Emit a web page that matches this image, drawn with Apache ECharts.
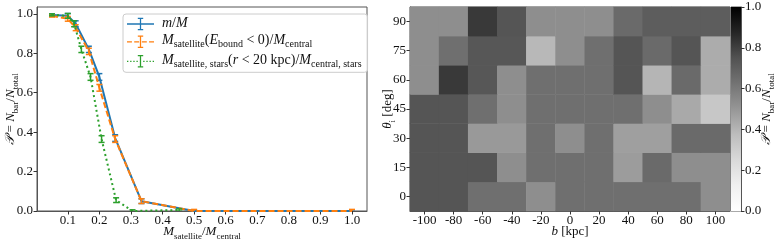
<!DOCTYPE html>
<html><head><meta charset="utf-8">
<script src="https://cdn.jsdelivr.net/npm/echarts@6/dist/echarts.min.js"></script>
<style>html,body{margin:0;padding:0;background:#fff}#c{width:777px;height:244px}</style>
</head><body><div id="c"></div>
<script>
// ---- left panel data ----
const xBlue   = [0.05, 0.1, 0.125, 0.1667, 0.2, 0.25, 0.3333, 0.5, 1.0];
const yBlue   = [0.995, 0.99, 0.95, 0.82, 0.68, 0.37, 0.05, 0.0, 0.0];
const eBlue   = [0.005, 0.012, 0.015, 0.016, 0.017, 0.017, 0.012, 0.006, 0.006];
const xOrange = [0.05, 0.1, 0.125, 0.1667, 0.2, 0.25, 0.3333, 0.5, 1.0];
const yOrange = [0.99, 0.975, 0.93, 0.81, 0.625, 0.365, 0.05, 0.0, 0.0];
const eOrange = [0.006, 0.012, 0.015, 0.016, 0.017, 0.017, 0.012, 0.008, 0.008];
const xGreen  = [0.05, 0.1, 0.12, 0.143, 0.172, 0.207, 0.253, 0.305, 0.453];
const yGreen  = [0.995, 0.99, 0.95, 0.82, 0.68, 0.365, 0.055, 0.0, 0.005];
const eGreen  = [0.005, 0.012, 0.015, 0.016, 0.017, 0.017, 0.012, 0.006, 0.006];
const xTicksLeft = [0.1, 0.2, 0.3, 0.4, 0.5, 0.6, 0.7, 0.8, 0.9, 1.0];
const yTicksLeft = [0.0, 0.2, 0.4, 0.6, 0.8, 1.0];

// ---- right panel data ----
const bCats = ['-100', '-80', '-60', '-40', '-20', '0', '20', '40', '60', '80', '100'];
const thetaCats = ['0', '15', '30', '45', '60', '75', '90'];
// rows from theta=0 (bottom) to theta=90 (top), columns b=-100..100
const row0  = [0.74, 0.74, 0.64, 0.64, 0.53, 0.64, 0.64, 0.64, 0.64, 0.64, 0.53];
const row15 = [0.74, 0.74, 0.74, 0.53, 0.64, 0.64, 0.64, 0.48, 0.66, 0.53, 0.53];
const row30 = [0.74, 0.74, 0.49, 0.49, 0.64, 0.53, 0.64, 0.47, 0.47, 0.66, 0.66];
const row45 = [0.74, 0.74, 0.64, 0.53, 0.64, 0.64, 0.64, 0.64, 0.53, 0.44, 0.33];
const row60 = [0.53, 0.82, 0.73, 0.53, 0.64, 0.64, 0.64, 0.74, 0.40, 0.66, 0.43];
const row75 = [0.53, 0.64, 0.73, 0.73, 0.39, 0.53, 0.64, 0.74, 0.66, 0.74, 0.43];
const row90 = [0.53, 0.53, 0.82, 0.74, 0.53, 0.53, 0.53, 0.66, 0.71, 0.71, 0.71];
const colorbarRange = [0, 1];

const GREYS = ['#ffffff','#f0f0f0','#d9d9d9','#bdbdbd','#969696','#737373','#525252','#252525','#000000'];
const C_BLUE = '#1f77b4', C_ORANGE = '#ff7f0e', C_GREEN = '#2ca02c';
const FONT = '"Liberation Serif", "DejaVu Serif", serif';
const TXT = '#111';

function mkRich(fs, sfs, lh) {
  return {
    i: {fontFamily: FONT, fontStyle: 'italic', fontSize: fs, color: TXT, lineHeight: lh, verticalAlign: 'top'},
    n: {fontFamily: FONT, fontSize: fs, color: TXT, lineHeight: lh, verticalAlign: 'top'},
    s: {fontFamily: FONT, fontSize: sfs, color: TXT, lineHeight: sfs + 1, verticalAlign: 'bottom'}
  };
}
const rich = mkRich(13, 9, 16);
const richLeg = mkRich(14, 10, 16);

function zip(xs, ys, es) { return xs.map((x, k) => [x, ys[k], es[k]]); }
const heatRows = [row0, row15, row30, row45, row60, row75, row90];
const heatData = [];
heatRows.forEach((r, yi) => r.forEach((v, xi) => heatData.push([xi, yi, v])));

function errSeries(name, data, color, z) {
  return {
    type: 'custom', name: name, xAxisIndex: 0, yAxisIndex: 0, z: z, clip: true,
    data: data,
    renderItem: function (params, api) {
      const x = api.value(0), y = api.value(1), e = api.value(2);
      const top = api.coord([x, y + e]);
      const bot = api.coord([x, y - e]);
      const cw = 3;
      const st = {stroke: color, lineWidth: 1.5};
      return {type: 'group', children: [
        {type: 'line', shape: {x1: top[0], y1: top[1], x2: bot[0], y2: bot[1]}, style: st},
        {type: 'line', shape: {x1: top[0]-cw, y1: top[1], x2: top[0]+cw, y2: top[1]}, style: st},
        {type: 'line', shape: {x1: bot[0]-cw, y1: bot[1], x2: bot[0]+cw, y2: bot[1]}, style: st}
      ]};
    }
  };
}

// legend icons (line + errorbar)
const iconSolid = 'path://M0 6.25h30v1.5h-30z M14.3 0h1.4v14h-1.4z M12 0h6v1.4h-6z M12 12.6h6v1.4h-6z';
const iconDash = 'path://M0 6.25h5.5v1.5h-5.5z M8 6.25h5.5v1.5h-5.5z M16.5 6.25h5.5v1.5h-5.5z M24.5 6.25h5.5v1.5h-5.5z M14.3 0h1.4v14h-1.4z M12 0h6v1.4h-6z M12 12.6h6v1.4h-6z';
const iconDot = 'path://M0 6.25h1.5v1.5h-1.5z M3.5 6.25h1.5v1.5h-1.5z M7 6.25h1.5v1.5h-1.5z M10.5 6.25h1.5v1.5h-1.5z M18 6.25h1.5v1.5h-1.5z M21.5 6.25h1.5v1.5h-1.5z M25 6.25h1.5v1.5h-1.5z M28.5 6.25h1.5v1.5h-1.5z M14.3 0h1.4v14h-1.4z M12 0h6v1.4h-6z M12 12.6h6v1.4h-6z';

const legendNames = {
  'mM': '{i|m}{n|/}{i|M}',
  'Ebound': '{i|M}{s|satellite}{n|(}{i|E}{s|bound}{n| < 0)/}{i|M}{s|central}',
  'stars': '{i|M}{s|satellite, stars}{n|(}{i|r}{n| < 20 kpc)/}{i|M}{s|central, stars}'
};

const axisCommon = {
  axisLine: {show: true, lineStyle: {color: '#555', width: 1}},
  axisTick: {show: true, inside: false, length: 3.5, lineStyle: {color: '#333', width: 1}},
  axisLabel: {fontFamily: FONT, fontSize: 13, color: TXT},
  splitLine: {show: false},
  nameMoveOverlap: false
};

const gridCommon = {top: 7, bottom: 33, show: true, borderColor: '#555', borderWidth: 1, containLabel: false, outerBoundsMode: 'none'};

const option = {
  animation: false,
  backgroundColor: '#fff',
  grid: [
    Object.assign({left: 37, right: 410}, gridCommon),
    Object.assign({left: 410, right: 47}, gridCommon),
    Object.assign({left: 731, right: 36}, gridCommon)
  ],
  legend: {
    data: [
      {name: 'mM', icon: iconSolid, itemStyle: {color: C_BLUE}},
      {name: 'Ebound', icon: iconDash, itemStyle: {color: C_ORANGE}},
      {name: 'stars', icon: iconDot, itemStyle: {color: C_GREEN}}
    ],
    orient: 'vertical', left: 123, top: 14, itemWidth: 27, itemHeight: 14, itemGap: 3.5,
    padding: [2, 6, 3, 4],
    backgroundColor: 'rgba(255,255,255,0.8)', borderColor: '#ccc', borderWidth: 1, borderRadius: 3,
    formatter: n => legendNames[n],
    textStyle: {rich: richLeg, fontFamily: FONT, fontSize: 14, color: TXT, padding: [0, 0, 0, 3]},
    selectedMode: false
  },
  xAxis: [
    Object.assign({}, axisCommon, {
      type: 'value', gridIndex: 0, min: 0.0025, max: 1.0475,
      axisLabel: Object.assign({}, axisCommon.axisLabel, {customValues: xTicksLeft, formatter: v => v.toFixed(1), margin: 3}),
      axisTick: Object.assign({}, axisCommon.axisTick, {customValues: xTicksLeft}),
      name: '{i|M}{s|satellite}{n|/}{i|M}{s|central}', nameLocation: 'middle', nameGap: 14,
      nameTextStyle: {rich: rich}
    }),
    Object.assign({}, axisCommon, {
      type: 'category', gridIndex: 1, data: bCats, boundaryGap: true,
      axisTick: Object.assign({}, axisCommon.axisTick, {alignWithLabel: true}),
      axisLabel: Object.assign({}, axisCommon.axisLabel, {margin: 3, interval: 0}),
      name: '{i|b}{n| [kpc]}', nameLocation: 'middle', nameGap: 14,
      nameTextStyle: {rich: rich}
    }),
    {type: 'category', gridIndex: 2, data: ['cb'], show: false}
  ],
  yAxis: [
    Object.assign({}, axisCommon, {
      type: 'value', gridIndex: 0, min: 0, max: 1.035,
      axisLabel: Object.assign({}, axisCommon.axisLabel, {customValues: yTicksLeft, formatter: v => v.toFixed(1), margin: 4}),
      axisTick: Object.assign({}, axisCommon.axisTick, {customValues: yTicksLeft}),
      name: '{i|𝒫}{n| = }{i|N}{s|bar}{n|/}{i|N}{s|total}', nameLocation: 'middle', nameGap: 17, nameRotate: 90,
      nameTextStyle: {rich: rich}
    }),
    Object.assign({}, axisCommon, {
      type: 'category', gridIndex: 1, data: thetaCats, boundaryGap: true,
      axisTick: Object.assign({}, axisCommon.axisTick, {alignWithLabel: true}),
      axisLabel: Object.assign({}, axisCommon.axisLabel, {margin: 4, interval: 0}),
      name: '{i|θ}{s|i}{n| [deg]}', nameLocation: 'middle', nameGap: 13, nameRotate: 90,
      nameTextStyle: {rich: rich}
    }),
    Object.assign({}, axisCommon, {
      type: 'value', gridIndex: 2, min: colorbarRange[0], max: colorbarRange[1], interval: 0.2, position: 'right',
      axisLabel: Object.assign({}, axisCommon.axisLabel, {formatter: v => v.toFixed(1), margin: 4}),
      name: '{i|𝒫}{n| = }{i|N}{s|bar}{n|/}{i|N}{s|total}', nameLocation: 'middle', nameGap: 19, nameRotate: 90,
      nameTextStyle: {rich: rich}
    })
  ],
  visualMap: {
    show: false, type: 'continuous', min: 0, max: 1, seriesIndex: 6, dimension: 2,
    inRange: {color: GREYS}
  },
  series: [
    {type: 'line', name: 'mM', xAxisIndex: 0, yAxisIndex: 0, data: zip(xBlue, yBlue, eBlue).map(d => [d[0], d[1]]),
     symbol: 'none', lineStyle: {color: C_BLUE, width: 2}, itemStyle: {color: C_BLUE}, z: 2},
    errSeries('mM', zip(xBlue, yBlue, eBlue), C_BLUE, 2),
    {type: 'line', name: 'Ebound', xAxisIndex: 0, yAxisIndex: 0, data: zip(xOrange, yOrange, eOrange).map(d => [d[0], d[1]]),
     symbol: 'none', lineStyle: {color: C_ORANGE, width: 2, type: [6, 3]}, itemStyle: {color: C_ORANGE}, z: 3},
    errSeries('Ebound', zip(xOrange, yOrange, eOrange), C_ORANGE, 3),
    {type: 'line', name: 'stars', xAxisIndex: 0, yAxisIndex: 0, data: zip(xGreen, yGreen, eGreen).map(d => [d[0], d[1]]),
     symbol: 'none', lineStyle: {color: C_GREEN, width: 2, type: [2, 3]}, itemStyle: {color: C_GREEN}, z: 4},
    errSeries('stars', zip(xGreen, yGreen, eGreen), C_GREEN, 4),
    {type: 'heatmap', xAxisIndex: 1, yAxisIndex: 1, data: heatData, itemStyle: {borderWidth: 0}, emphasis: {disabled: true}},
    {type: 'bar', xAxisIndex: 2, yAxisIndex: 2, data: [colorbarRange[1]], barWidth: '100%', silent: true,
     itemStyle: {color: {type: 'linear', x: 0, y: 0, x2: 0, y2: 1,
       colorStops: GREYS.slice().reverse().map((c, k) => ({offset: k / 8, color: c}))}}}
  ]
};
const chart = echarts.init(document.getElementById('c'), null, {renderer: 'canvas'});
chart.setOption(option);
</script>
</body></html>
